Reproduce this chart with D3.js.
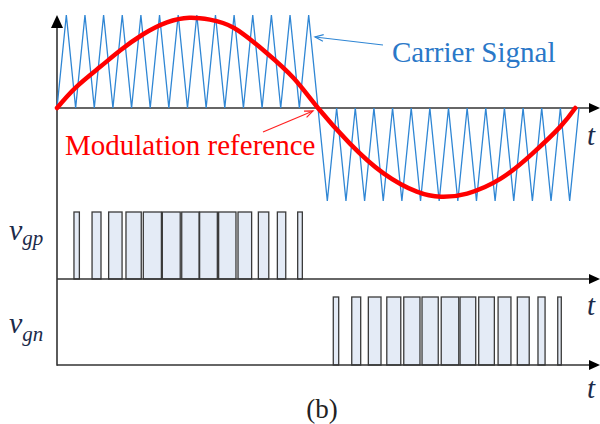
<!DOCTYPE html>
<html>
<head>
<meta charset="utf-8">
<script src="https://cdn.jsdelivr.net/npm/d3@7"></script>
<style>
  body { margin: 0; background: #fff; }
</style>
</head>
<body>
<div id="chart"></div>
<script>
// carrier vertices, time in carrier periods (28 over one reference cycle)
const carrierT = [0, 0.5, 1, 1.5, 2, 2.5, 3, 3.5, 4, 4.5, 5, 5.5, 6, 6.5, 7, 7.5, 8, 8.5, 9, 9.5,
  10, 10.5, 11, 11.5, 12, 12.5, 13, 13.5, 14, 14.5, 15, 15.5, 16, 16.5, 17, 17.5, 18, 18.5, 19, 19.5,
  20, 20.5, 21, 21.5, 22, 22.5, 23, 23.5, 24, 24.5, 25, 25.5, 26, 26.5, 27, 27.5, 28];
const carrierV = [0, 1, 0, 1, 0, 1, 0, 1, 0, 1, 0, 1, 0, 1, 0, 1, 0, 1, 0, 1,
  0, 1, 0, 1, 0, 1, 0, 1, 0, -1, 0, -1, 0, -1, 0, -1, 0, -1, 0, -1,
  0, -1, 0, -1, 0, -1, 0, -1, 0, -1, 0, -1, 0, -1, 0, -1, 0];

// modulation reference
const refT = [0, 1, 2.3, 3.4, 4.6, 5.9, 7.1, 8.2, 9.5, 11.2, 12.7, 14,
  15.7, 17.5, 19.3, 20.6, 22, 23.8, 25.5, 27, 27.8];
const refV = [0, 0.22, 0.44, 0.62, 0.79, 0.92, 0.97, 0.95, 0.86, 0.6, 0.32, 0,
  -0.38, -0.7, -0.9, -0.955, -0.92, -0.76, -0.49, -0.2, 0];

// gate pulses [start, end]
const gpStart = [0.91, 1.88, 2.77, 3.70, 4.63, 5.65, 6.69, 7.65, 8.67, 9.71, 10.80, 11.82, 12.91];
const gpEnd   = [1.20, 2.36, 3.49, 4.52, 5.60, 6.61, 7.62, 8.60, 9.60, 10.44, 11.36, 12.27, 13.16];
const gnStart = [14.82, 15.81, 16.70, 17.69, 18.60, 19.58, 20.61, 21.62, 22.62, 23.66, 24.69, 25.80, 26.86];
const gnEnd   = [15.11, 16.29, 17.38, 18.44, 19.47, 20.45, 21.55, 22.46, 23.46, 24.35, 25.33, 26.18, 27.05];

const width = 600, height = 424;
const serif = "Times New Roman, Times, Liberation Serif, DejaVu Serif, Noto Serif, serif";

let svg = d3.select("#chart")
  .append("svg")
  .attr("width", width)
  .attr("height", height)
  .attr("font-family", serif);

let x = d3.scaleLinear().domain([0, 28]).range([57, 579]);
let yTop = d3.scaleLinear().domain([-1, 1]).range([201, 15]);
let yGp = d3.scaleLinear().domain([0, 1]).range([279, 212]);
let yGn = d3.scaleLinear().domain([0, 1]).range([365, 297]);

const axisColor = "#333";

// pulses
function pulses(starts, ends, y) {
  svg.append("g")
    .selectAll("rect")
    .data(starts.map((s, i) => [s, ends[i]]))
    .enter()
    .append("rect")
    .attr("x", d => x(d[0]))
    .attr("y", y(1))
    .attr("width", d => x(d[1]) - x(d[0]))
    .attr("height", y(0) - y(1))
    .attr("fill", "#e4ebf6")
    .attr("stroke", "#3a3a3a")
    .attr("stroke-width", 1.3);
}
pulses(gpStart, gpEnd, yGp);
pulses(gnStart, gnEnd, yGn);

// horizontal axes with arrows
[yTop(0), yGp(0), yGn(0)].forEach(yy => {
  svg.append("line")
    .attr("x1", 57).attr("x2", 592)
    .attr("y1", yy).attr("y2", yy)
    .attr("stroke", axisColor).attr("stroke-width", 1.6);
  svg.append("path")
    .attr("d", `M600,${yy} L589,${yy - 5} L589,${yy + 5} Z`)
    .attr("fill", "#000");
});

// vertical axis
svg.append("line")
  .attr("x1", 57).attr("x2", 57)
  .attr("y1", 26).attr("y2", yGn(0) + 0.8)
  .attr("stroke", axisColor).attr("stroke-width", 1.6);
svg.append("path")
  .attr("d", "M57,15 L51,28 L63,28 Z")
  .attr("fill", "#000");

// carrier
let line = d3.line()
  .x(d => x(d[0]))
  .y(d => yTop(d[1]));

svg.append("path")
  .datum(carrierT.map((t, i) => [t, carrierV[i]]))
  .attr("d", line)
  .attr("fill", "none")
  .attr("stroke", "#2f86d4")
  .attr("stroke-width", 1.3);

// modulation reference
svg.append("path")
  .datum(refT.map((t, i) => [t, refV[i]]))
  .attr("d", line.curve(d3.curveNatural))
  .attr("fill", "none")
  .attr("stroke", "#ff0000")
  .attr("stroke-width", 4.5)
  .attr("stroke-linecap", "round");

// annotation arrows
function arrow(x1, y1, x2, y2, color) {
  let a = Math.atan2(y2 - y1, x2 - x1), L = 9, w = 0.38;
  svg.append("line")
    .attr("x1", x1).attr("y1", y1).attr("x2", x2).attr("y2", y2)
    .attr("stroke", color).attr("stroke-width", 1.2);
  svg.append("path")
    .attr("d", `M${x2 - L * Math.cos(a - w)},${y2 - L * Math.sin(a - w)} L${x2},${y2} L${x2 - L * Math.cos(a + w)},${y2 - L * Math.sin(a + w)}`)
    .attr("fill", "none")
    .attr("stroke", color).attr("stroke-width", 1.2);
}
arrow(383, 45, 315, 37, "#2f86d4");
arrow(263, 132, 313, 111, "#ff2020");

// labels
svg.append("text")
  .attr("x", 392).attr("y", 62)
  .attr("font-size", 29)
  .attr("fill", "#2a78c8")
  .text("Carrier Signal");

svg.append("text")
  .attr("x", 65).attr("y", 155)
  .attr("font-size", 29)
  .attr("fill", "#ff0000")
  .text("Modulation reference");

const labelColor = "#1c2b4a";
[145, 315, 398].forEach(yy => {
  svg.append("text")
    .attr("x", 587).attr("y", yy)
    .attr("font-size", 29)
    .attr("font-style", "italic")
    .attr("fill", labelColor)
    .text("t");
});

function vlabel(yy, sub, dy) {
  let t = svg.append("text")
    .attr("x", 9).attr("y", yy)
    .attr("font-style", "italic")
    .attr("fill", labelColor);
  t.append("tspan").attr("font-size", 30).text("v");
  t.append("tspan").attr("font-size", 21).attr("dy", dy).text(sub);
}
vlabel(240, "gp", 5);
vlabel(333, "gn", 8);

svg.append("text")
  .attr("x", 322).attr("y", 418)
  .attr("text-anchor", "middle")
  .attr("font-size", 27)
  .attr("fill", "#222")
  .text("(b)");
</script>
</body>
</html>
